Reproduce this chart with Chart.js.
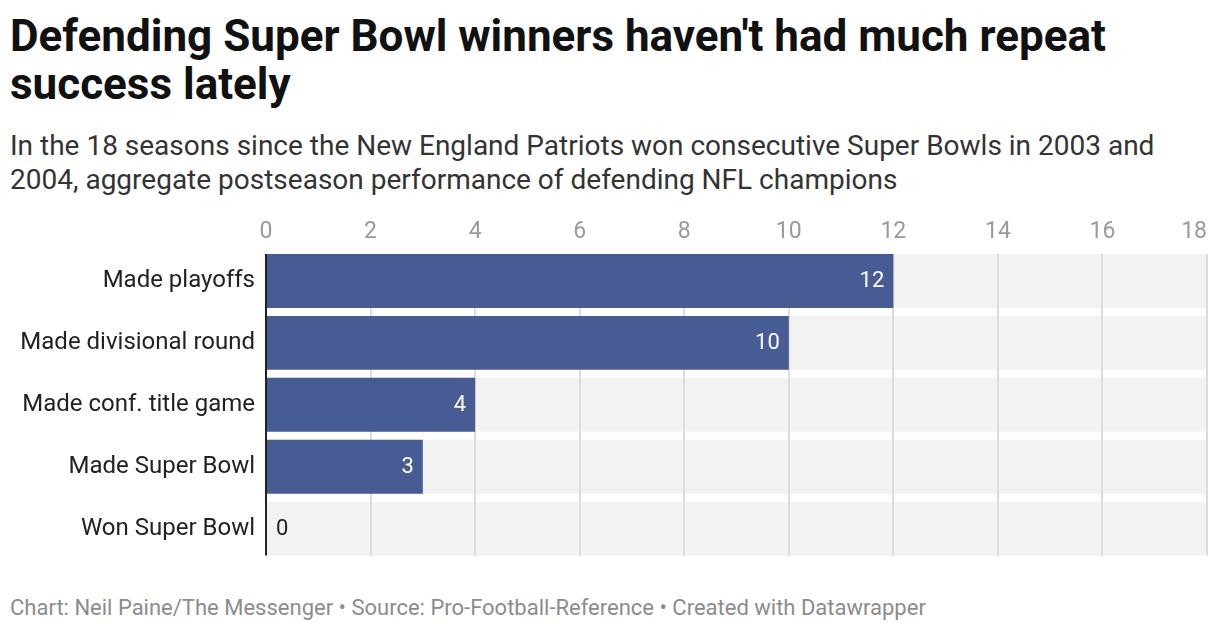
<!DOCTYPE html>
<html>
<head>
<meta charset="utf-8">
<script src="https://cdn.jsdelivr.net/npm/chart.js@4"></script>
<style>
  body { margin: 0; background: #fff; font-family: Roboto, "Noto Sans", sans-serif; }
  #wrap { position: relative; width: 1220px; height: 632px; overflow: hidden; }
  h1 { position: absolute; left: 10px; top: 12px; margin: 0; width: 1200px;
       font-size: 44px; line-height: 48px; font-weight: 700; color: #111; }
  .sub { position: absolute; left: 10px; top: 129px; margin: 0; width: 1200px;
         font-size: 28px; line-height: 34px; color: #333; }
  .foot { position: absolute; left: 10px; top: 595px; font-size: 22px; line-height: 26px; color: #8c8c8c; }
  #box { position: absolute; left: 0; top: 200px; width: 1220px; height: 385px; }
</style>
</head>
<body>
<div id="wrap">
  <h1>Defending Super Bowl winners haven't had much repeat success lately</h1>
  <p class="sub">In the 18 seasons since the New England Patriots won consecutive Super Bowls in 2003 and 2004, aggregate postseason performance of defending NFL champions</p>
  <div id="box"><canvas id="chart"></canvas></div>
  <div class="foot">Chart: Neil Paine/The Messenger • Source: Pro-Football-Reference • Created with Datawrapper</div>
</div>
<script>
// data
const categories = ["Made playoffs", "Made divisional round", "Made conf. title game", "Made Super Bowl", "Won Super Bowl"];
const seasonCounts = [12, 10, 4, 3, 0];
const totalSeasons = 18;
const tickStep = 2;

const BLUE = '#475c95';
const ROW_BG = '#f2f2f2';

function rowSpan(chart) {
    const rows = chart.getDatasetMeta(1).data;
    const first = rows[0], last = rows[rows.length - 1];
    return { top: first.y - first.height / 2, bottom: last.y + last.height / 2 };
}

// grid lines go over the grey rows but under the blue bars
const rowGrid = {
    id: 'rowGrid',
    afterDatasetDraw(chart, args) {
        if (args.index !== 1) return;
        const ctx = chart.ctx;
        const x = chart.scales.x;
        const { top, bottom } = rowSpan(chart);
        ctx.save();
        ctx.strokeStyle = '#dcdcdc';
        ctx.lineWidth = 2;
        x.ticks.forEach(t => {
            if (t.value === 0) return;
            const px = Math.round(x.getPixelForValue(t.value));
            ctx.beginPath();
            ctx.moveTo(px, top);
            ctx.lineTo(px, bottom);
            ctx.stroke();
        });
        ctx.restore();
    },
    afterDatasetsDraw(chart) {
        const ctx = chart.ctx;
        const x = chart.scales.x;
        const { top, bottom } = rowSpan(chart);
        const x0 = x.getPixelForValue(0);
        ctx.save();
        // value labels
        ctx.font = '22px Roboto';
        ctx.textBaseline = 'middle';
        chart.getDatasetMeta(0).data.forEach((bar, i) => {
            const v = seasonCounts[i];
            if (v > 0) {
                ctx.fillStyle = '#fff';
                ctx.textAlign = 'right';
                ctx.fillText(String(v), bar.x - 9, bar.y + 1);
            } else {
                ctx.fillStyle = '#222';
                ctx.textAlign = 'left';
                ctx.fillText(String(v), x0 + 10, bar.y + 1);
            }
        });
        // top tick labels, last one kept inside the plot
        ctx.font = '23px Roboto';
        ctx.fillStyle = '#9a9a9a';
        x.ticks.forEach((t, i) => {
            const isLast = i === x.ticks.length - 1;
            ctx.textAlign = isLast ? 'right' : 'center';
            ctx.fillText(String(t.value), x.getPixelForValue(t.value), top - 22);
        });
        // baseline
        ctx.strokeStyle = '#222';
        ctx.lineWidth = 2;
        ctx.beginPath();
        ctx.moveTo(x0, top);
        ctx.lineTo(x0, bottom);
        ctx.stroke();
        ctx.restore();
    }
};

new Chart(document.getElementById('chart'), {
    type: 'bar',
    data: {
        labels: categories,
        datasets: [
            {
                data: seasonCounts,
                backgroundColor: BLUE,
                grouped: false,
                order: 1,
                barPercentage: 0.87,
                categoryPercentage: 1
            },
            {
                data: categories.map(() => totalSeasons),
                backgroundColor: ROW_BG,
                grouped: false,
                order: 2,
                barPercentage: 0.87,
                categoryPercentage: 1
            }
        ]
    },
    options: {
        indexAxis: 'y',
        responsive: true,
        maintainAspectRatio: false,
        animation: false,
        layout: { padding: { left: 0, right: 13, top: 0, bottom: 0 } },
        plugins: { legend: { display: false }, tooltip: { enabled: false } },
        scales: {
            x: {
                position: 'top',
                min: 0,
                max: totalSeasons,
                grid: { display: false, drawTicks: false },
                border: { display: false },
                ticks: { stepSize: tickStep, display: false },
                afterFit(scale) { scale.height = 50; scale.paddingLeft = 0; scale.paddingRight = 0; }
            },
            y: {
                grid: { display: false, drawTicks: false },
                border: { display: false },
                ticks: { color: '#222', font: { family: 'Roboto', size: 24 }, padding: 11 },
                afterFit(scale) { scale.width = 266; }
            }
        }
    },
    plugins: [rowGrid]
});
</script>
</body>
</html>
